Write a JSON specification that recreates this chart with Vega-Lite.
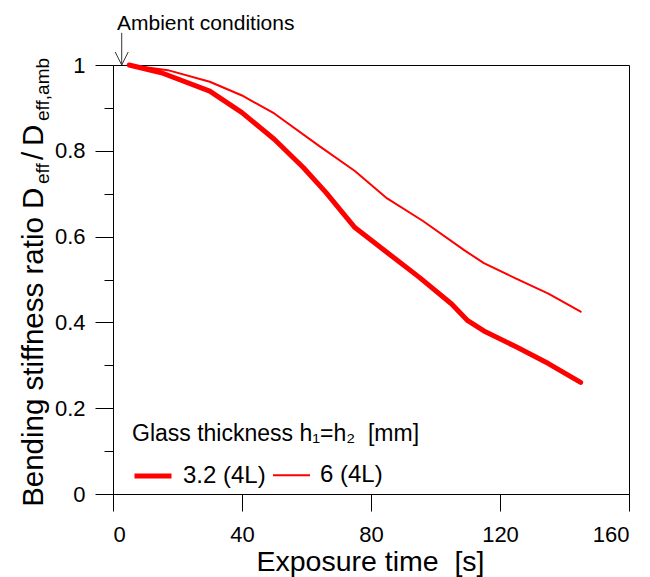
{
  "$schema": "https://vega.github.io/schema/vega-lite/v6.json",
  "width": 516,
  "height": 429,
  "autosize": {"type": "none"},
  "padding": {"left": 113, "top": 65, "right": 21, "bottom": 83},
  "background": "#ffffff",
  "config": {
    "font": "Liberation Sans",
    "view": {"stroke": "#000000", "strokeWidth": 1},
    "axis": {"domainColor": "#000000", "tickColor": "#000000", "labelColor": "#000000", "titleColor": "#000000", "grid": false, "labelFont": "Liberation Sans", "titleFont": "Liberation Sans"}
  },
  "datasets": {
    "curves": [
      {"series": "3.2 (4L)", "time": 5, "ratio": 1.0},
      {"series": "3.2 (4L)", "time": 15, "ratio": 0.982},
      {"series": "3.2 (4L)", "time": 30, "ratio": 0.939},
      {"series": "3.2 (4L)", "time": 40, "ratio": 0.889},
      {"series": "3.2 (4L)", "time": 50, "ratio": 0.827},
      {"series": "3.2 (4L)", "time": 59, "ratio": 0.761},
      {"series": "3.2 (4L)", "time": 66, "ratio": 0.703},
      {"series": "3.2 (4L)", "time": 75, "ratio": 0.621},
      {"series": "3.2 (4L)", "time": 85, "ratio": 0.563},
      {"series": "3.2 (4L)", "time": 95, "ratio": 0.505},
      {"series": "3.2 (4L)", "time": 105, "ratio": 0.443},
      {"series": "3.2 (4L)", "time": 110, "ratio": 0.404},
      {"series": "3.2 (4L)", "time": 115, "ratio": 0.38},
      {"series": "3.2 (4L)", "time": 125, "ratio": 0.343},
      {"series": "3.2 (4L)", "time": 135, "ratio": 0.304},
      {"series": "3.2 (4L)", "time": 145, "ratio": 0.26},
      {"series": "6 (4L)", "time": 5, "ratio": 1.0},
      {"series": "6 (4L)", "time": 17, "ratio": 0.988},
      {"series": "6 (4L)", "time": 30, "ratio": 0.961},
      {"series": "6 (4L)", "time": 40, "ratio": 0.929},
      {"series": "6 (4L)", "time": 50, "ratio": 0.887},
      {"series": "6 (4L)", "time": 64, "ratio": 0.811},
      {"series": "6 (4L)", "time": 75, "ratio": 0.753},
      {"series": "6 (4L)", "time": 85, "ratio": 0.689},
      {"series": "6 (4L)", "time": 96, "ratio": 0.637},
      {"series": "6 (4L)", "time": 109, "ratio": 0.568},
      {"series": "6 (4L)", "time": 115, "ratio": 0.538},
      {"series": "6 (4L)", "time": 125, "ratio": 0.502},
      {"series": "6 (4L)", "time": 135, "ratio": 0.467},
      {"series": "6 (4L)", "time": 145, "ratio": 0.425}
    ],
    "ytitleMain": [
      {"x": -21.7, "y": -0.03, "text": "Bending stiffness ratio D"},
      {"x": -21.7, "y": 0.7786, "text": "/"},
      {"x": -21.7, "y": 0.811, "text": "D"}
    ],
    "ytitleSub": [
      {"x": -21.7, "y": 0.7226, "text": "eff"},
      {"x": -21.7, "y": 0.8695, "text": "eff,amb"}
    ],
    "note": [{"x": 1.24, "y": 1.0816, "text": "Ambient conditions"}],
    "arrow": [{"x": 2.7, "y": 1.0, "y2": 1.075}]
  },
  "layer": [
    {
      "data": {"name": "curves"},
      "mark": {"type": "line", "color": "#ff0000", "strokeCap": "round", "strokeJoin": "round"},
      "encoding": {
        "x": {
          "field": "time", "type": "quantitative",
          "scale": {"domain": [0, 160], "nice": false},
          "axis": {
            "values": [0, 40, 80, 120, 160],
            "tickSize": 17,
            "labelFontSize": 22,
            "labelPadding": 13,
            "title": "Exposure time\u00a0\u00a0[s]",
            "titleFontSize": 28.5,
            "titleFontWeight": "normal",
            "titleBaseline": "alphabetic",
            "titleAlign": "center",
            "titleX": 257,
            "titleY": 76
          }
        },
        "y": {
          "field": "ratio", "type": "quantitative",
          "scale": {"domain": [0, 1], "nice": false},
          "axis": {
            "values": [0, 0.1, 0.2, 0.3, 0.4, 0.5, 0.6, 0.7, 0.8, 0.9, 1],
            "format": "~g",
            "labelExpr": "round(datum.value * 10) % 2 === 0 ? datum.label : ''",
            "tickSize": {"condition": {"test": "round(datum.value * 10) % 2 === 1", "value": 9}, "value": 18},
            "labelFontSize": 22,
            "labelPadding": 10,
            "title": null
          }
        },
        "strokeWidth": {
          "field": "series", "type": "ordinal",
          "scale": {"type": "ordinal", "domain": ["3.2 (4L)", "6 (4L)"], "range": [5, 2]},
          "legend": {
            "orient": "none",
            "legendX": 19,
            "legendY": 358,
            "direction": "horizontal",
            "padding": 0,
            "title": "Glass thickness h\u2081=h\u2082\u00a0\u00a0[mm]",
            "titleFontSize": 23,
            "titleFontWeight": "normal",
            "titleColor": "#000000",
            "titleLimit": 500,
            "titlePadding": 9,
            "labelFontSize": 24,
            "labelColor": "#000000",
            "labelOffset": 9,
            "labelLimit": 300,
            "columnPadding": 3,
            "symbolType": "stroke",
            "symbolSize": 1369,
            "symbolStrokeColor": "#ff0000"
          }
        }
      }
    },
    {
      "data": {"name": "arrow"},
      "mark": {"type": "rule", "color": "#333333", "strokeWidth": 1},
      "encoding": {
        "x": {"field": "x", "type": "quantitative"},
        "y": {"field": "y", "type": "quantitative"},
        "y2": {"field": "y2"}
      }
    },
    {
      "data": {"name": "arrow"},
      "mark": {"type": "point", "shape": "M-1,-2L0,0L1,-2", "size": 169, "filled": false, "color": "#333333", "strokeWidth": 1, "opacity": 1},
      "encoding": {
        "x": {"field": "x", "type": "quantitative"},
        "y": {"field": "y", "type": "quantitative"}
      }
    },
    {
      "data": {"name": "note"},
      "mark": {"type": "text", "align": "left", "baseline": "alphabetic", "fontSize": 21, "color": "#000000", "font": "Liberation Sans"},
      "encoding": {
        "x": {"field": "x", "type": "quantitative"},
        "y": {"field": "y", "type": "quantitative"},
        "text": {"field": "text"}
      }
    },
    {
      "data": {"name": "ytitleMain"},
      "mark": {"type": "text", "angle": 270, "align": "left", "baseline": "alphabetic", "fontSize": 29.5, "color": "#000000", "font": "Liberation Sans"},
      "encoding": {
        "x": {"field": "x", "type": "quantitative"},
        "y": {"field": "y", "type": "quantitative"},
        "text": {"field": "text"}
      }
    },
    {
      "data": {"name": "ytitleSub"},
      "mark": {"type": "text", "angle": 270, "align": "left", "baseline": "alphabetic", "fontSize": 19, "dy": 6, "color": "#000000", "font": "Liberation Sans"},
      "encoding": {
        "x": {"field": "x", "type": "quantitative"},
        "y": {"field": "y", "type": "quantitative"},
        "text": {"field": "text"}
      }
    }
  ]
}
